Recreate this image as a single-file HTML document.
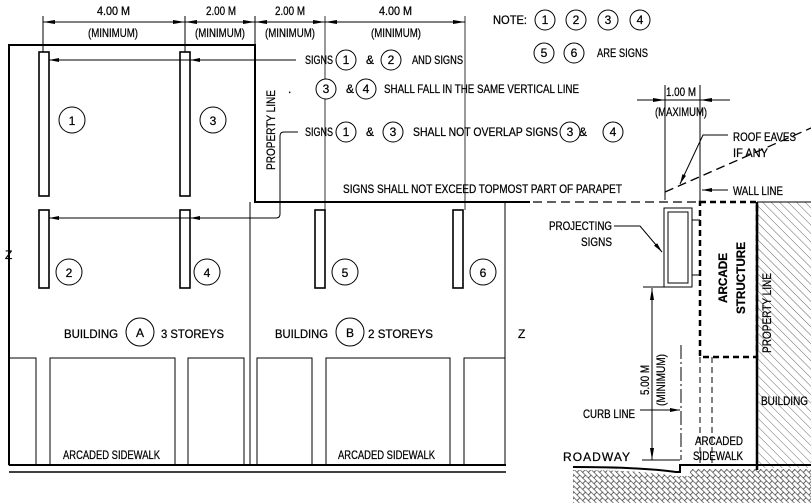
<!DOCTYPE html>
<html><head><meta charset="utf-8"><style>
html,body{margin:0;padding:0;background:#fff;}
svg{display:block;}
text{font-family:"Liberation Sans",sans-serif;font-size:12px;fill:#000;stroke:#000;stroke-width:0.25;}
.c{fill:#fff;stroke:#000;stroke-width:1;}
.ct{font-size:12px;text-anchor:middle;}
</style></head><body>
<svg width="811" height="503" viewBox="0 0 811 503" xmlns="http://www.w3.org/2000/svg">
<defs>
<marker id="ar" viewBox="0 0 10 6" refX="10" refY="3" markerWidth="10" markerHeight="6" orient="auto" markerUnits="userSpaceOnUse"><path d="M0,1 L10,3 L0,5z" fill="#000"/></marker>
<pattern id="hatch" width="6" height="6" patternUnits="userSpaceOnUse" patternTransform="rotate(-45)"><line x1="0" y1="0" x2="0" y2="6" stroke="#000" stroke-width="0.6"/></pattern>
<pattern id="bw" width="8" height="8" patternUnits="userSpaceOnUse" patternTransform="rotate(45)"><path d="M0,2 H8 M0,6 H8 M2,0 V2 M6,2 V6 M2,6 V8" stroke="#000" stroke-width="0.6" fill="none"/></pattern>
</defs>

<g stroke="#000" stroke-width="1" fill="none">
<line x1="43" y1="22" x2="465" y2="22"/>
<line x1="43" y1="16" x2="43" y2="52"/>
<line x1="185" y1="16" x2="185" y2="52"/>
<line x1="255" y1="16" x2="255" y2="45"/>
<line x1="325" y1="16" x2="325" y2="210" stroke-width="0.8"/>
<line x1="465" y1="16" x2="465" y2="210" stroke-width="0.8"/>
</g>
<g fill="#000">
<path d="M43,22 l12,-2 v4z"/><path d="M185,22 l-12,-2 v4z"/><path d="M185,22 l12,-2 v4z"/>
<path d="M255,22 l-12,-2 v4z"/><path d="M255,22 l12,-2 v4z"/><path d="M325,22 l-12,-2 v4z"/><path d="M325,22 l12,-2 v4z"/><path d="M465,22 l-12,-2 v4z"/>
</g>
<text x="97" y="15" textLength="33" lengthAdjust="spacingAndGlyphs">4.00 M</text>
<text x="88" y="37" textLength="50" lengthAdjust="spacingAndGlyphs">(MINIMUM)</text>
<text x="206" y="15" textLength="30" lengthAdjust="spacingAndGlyphs">2.00 M</text>
<text x="195" y="37" textLength="50" lengthAdjust="spacingAndGlyphs">(MINIMUM)</text>
<text x="275" y="15" textLength="30" lengthAdjust="spacingAndGlyphs">2.00 M</text>
<text x="265" y="37" textLength="50" lengthAdjust="spacingAndGlyphs">(MINIMUM)</text>
<text x="379" y="15" textLength="33" lengthAdjust="spacingAndGlyphs">4.00 M</text>
<text x="371" y="37" textLength="50" lengthAdjust="spacingAndGlyphs">(MINIMUM)</text>

<g stroke="#000" fill="none">
<path d="M9,465 V45 H255 V202 H530" stroke-width="2"/>
<line x1="250" y1="202" x2="250" y2="465" stroke-width="1"/>
<line x1="505" y1="202" x2="505" y2="465" stroke-width="1"/>
<line x1="9" y1="465" x2="506" y2="465" stroke-width="2"/>
<line x1="9" y1="472" x2="506" y2="472" stroke-width="1.5"/>
<rect x="9" y="358" width="27" height="107" stroke-width="1"/>
<rect x="50" y="358" width="125" height="107" stroke-width="1"/>
<rect x="188" y="358" width="56" height="107" stroke-width="1"/>
<rect x="257" y="358" width="55" height="107" stroke-width="1"/>
<rect x="326" y="358" width="124" height="107" stroke-width="1"/>
<rect x="464" y="358" width="41" height="107" stroke-width="1"/>
<rect x="39" y="52" width="10" height="144" stroke-width="1.6"/>
<rect x="180" y="52" width="10" height="144" stroke-width="1.6"/>
<rect x="39" y="210" width="10" height="78" stroke-width="1.6"/>
<rect x="180" y="210" width="10" height="78" stroke-width="1.6"/>
<rect x="315" y="210" width="10" height="78" stroke-width="1.6"/>
<rect x="453" y="210" width="10" height="78" stroke-width="1.6"/>
<line x1="296" y1="60" x2="49" y2="60" marker-end="url(#ar)"/>
<line x1="200" y1="60" x2="190" y2="60" marker-end="url(#ar)"/>
<path d="M298,132 H284 Q280,132 280,136 V214 Q280,218 276,218 H49" marker-end="url(#ar)"/>
<line x1="200" y1="218" x2="190" y2="218" marker-end="url(#ar)"/>
</g>
<text x="5" y="259" font-size="12">Z</text>
<text x="518" y="338" font-size="12">Z</text>

<g class="c">
<circle cx="72" cy="120" r="13"/><circle cx="213" cy="120" r="13"/>
<circle cx="69" cy="272" r="13"/><circle cx="207" cy="272" r="13"/>
<circle cx="345" cy="272" r="13"/><circle cx="483" cy="272" r="13"/>
<circle cx="346" cy="60" r="10"/><circle cx="391" cy="60" r="10"/>
<circle cx="326" cy="89" r="10"/><circle cx="366" cy="89" r="10"/>
<circle cx="346" cy="132" r="10"/><circle cx="393" cy="132" r="10"/>
<circle cx="570" cy="132" r="10"/><circle cx="613" cy="132" r="10"/>
<circle cx="545" cy="20" r="10"/><circle cx="576" cy="20" r="10"/><circle cx="608" cy="20" r="10"/><circle cx="640" cy="20" r="10"/>
<circle cx="544" cy="53" r="10"/><circle cx="574" cy="53" r="10"/>
<circle cx="140" cy="332" r="14"/><circle cx="350" cy="332" r="14"/>
</g>
<text x="72" y="125" class="ct" font-size="13">1</text><text x="213" y="125" class="ct" font-size="13">3</text>
<text x="69" y="277" class="ct" font-size="13">2</text><text x="207" y="277" class="ct" font-size="13">4</text>
<text x="345" y="277" class="ct" font-size="13">5</text><text x="483" y="277" class="ct" font-size="13">6</text>
<text x="346" y="64" class="ct">1</text><text x="391" y="64" class="ct">2</text>
<text x="326" y="93" class="ct">3</text><text x="366" y="93" class="ct">4</text>
<text x="346" y="136" class="ct">1</text><text x="393" y="136" class="ct">3</text>
<text x="570" y="136" class="ct">3</text><text x="613" y="136" class="ct">4</text>
<text x="545" y="24" class="ct">1</text><text x="576" y="24" class="ct">2</text><text x="608" y="24" class="ct">3</text><text x="640" y="24" class="ct">4</text>
<text x="544" y="57" class="ct">5</text><text x="574" y="57" class="ct">6</text>
<text x="140" y="337" class="ct" font-size="13">A</text><text x="350" y="337" class="ct" font-size="13">B</text>

<text x="493" y="24" textLength="34" lengthAdjust="spacingAndGlyphs">NOTE:</text>
<text x="597" y="57" textLength="51" lengthAdjust="spacingAndGlyphs">ARE SIGNS</text>
<text x="305" y="64" textLength="28" lengthAdjust="spacingAndGlyphs">SIGNS</text><text x="366" y="64">&amp;</text><text x="412" y="64" textLength="51" lengthAdjust="spacingAndGlyphs">AND SIGNS</text>
<text x="288" y="93">.</text><text x="346" y="93">&amp;</text><text x="384" y="93" textLength="195" lengthAdjust="spacingAndGlyphs">SHALL FALL IN THE SAME VERTICAL LINE</text>
<text x="305" y="136" textLength="28" lengthAdjust="spacingAndGlyphs">SIGNS</text><text x="366" y="136">&amp;</text><text x="413" y="136" textLength="145" lengthAdjust="spacingAndGlyphs">SHALL NOT OVERLAP SIGNS</text><text x="579" y="136">&amp;</text>
<text x="275" y="130" transform="rotate(-90 275 130)" text-anchor="middle" textLength="80" lengthAdjust="spacingAndGlyphs">PROPERTY LINE</text>
<text x="343" y="193" textLength="279" lengthAdjust="spacingAndGlyphs">SIGNS SHALL NOT EXCEED TOPMOST PART OF PARAPET</text>
<text x="64" y="338" font-size="13" textLength="54" lengthAdjust="spacingAndGlyphs">BUILDING</text><text x="161" y="338" font-size="13" textLength="63" lengthAdjust="spacingAndGlyphs">3 STOREYS</text>
<text x="275" y="338" font-size="13" textLength="53" lengthAdjust="spacingAndGlyphs">BUILDING</text><text x="368" y="338" font-size="13" textLength="65" lengthAdjust="spacingAndGlyphs">2 STOREYS</text>
<text x="63" y="459" font-size="11" textLength="97" lengthAdjust="spacingAndGlyphs">ARCADED SIDEWALK</text>
<text x="338" y="459" font-size="11" textLength="97" lengthAdjust="spacingAndGlyphs">ARCADED SIDEWALK</text>

<rect x="757" y="202" width="54" height="266" fill="url(#hatch)"/>
<path d="M573,470 Q640,470 676,476 L690,476 L690,469 L811,469 V503 H573z" fill="url(#bw)"/>
<g stroke="#000" fill="none">
<line x1="637" y1="100" x2="730" y2="100"/>
<line x1="665" y1="85" x2="665" y2="200"/>
<line x1="700" y1="85" x2="700" y2="203"/>
<line x1="505" y1="202" x2="700" y2="202" stroke-dasharray="9,5" stroke-width="1.3"/>
<line x1="665" y1="192" x2="811" y2="128" stroke-dasharray="9,5" stroke-width="1.3"/>
<path d="M728,135 H703 L680,184" marker-end="url(#ar)"/>
<line x1="728" y1="190" x2="702" y2="190" marker-end="url(#ar)"/>
<path d="M700,202 H757 V357 H700z" stroke-dasharray="6,4" stroke-width="2.5"/>
<line x1="757" y1="202" x2="757" y2="470" stroke-width="2.5"/>
<line x1="757" y1="202" x2="811" y2="202" stroke-width="1"/>
<rect x="664" y="208" width="28" height="79" stroke-width="1"/>
<rect x="668" y="212" width="20" height="71" stroke-width="1"/>
<line x1="692" y1="220" x2="700" y2="220"/><line x1="692" y1="275" x2="700" y2="275"/>
<path d="M614,226 H640 L662,252" marker-end="url(#ar)"/>
<line x1="643" y1="287" x2="665" y2="287"/>
<line x1="652" y1="288" x2="652" y2="460"/>
<line x1="642" y1="460" x2="680" y2="460"/>
<line x1="681" y1="345" x2="681" y2="460" stroke-dasharray="14,3,2,3"/>
<line x1="640" y1="410" x2="680" y2="410" marker-end="url(#ar)"/>
<line x1="700" y1="357" x2="700" y2="466" stroke-dasharray="6,4"/>
<line x1="712" y1="357" x2="712" y2="466" stroke-dasharray="6,4"/>
<path d="M573,467 Q640,467 676,472 H680 V465 H811" stroke-width="2"/>
</g>
<g fill="#000">
<path d="M665,100 l-12,-2 v4z"/><path d="M700,100 l12,-2 v4z"/>
<path d="M652,288 l-2,12 h4z"/><path d="M652,460 l-2,-12 h4z"/>
</g>
<text x="666" y="96" textLength="30" lengthAdjust="spacingAndGlyphs">1.00 M</text>
<text x="655" y="116" textLength="52" lengthAdjust="spacingAndGlyphs">(MAXIMUM)</text>
<text x="733" y="141" textLength="63" lengthAdjust="spacingAndGlyphs">ROOF EAVES</text>
<text x="733" y="157" textLength="35" lengthAdjust="spacingAndGlyphs">IF ANY</text>
<text x="733" y="195" textLength="50" lengthAdjust="spacingAndGlyphs">WALL LINE</text>
<text x="549" y="230" textLength="63" lengthAdjust="spacingAndGlyphs">PROJECTING</text>
<text x="581" y="246" textLength="31" lengthAdjust="spacingAndGlyphs">SIGNS</text>
<text x="727" y="278" transform="rotate(-90 727 278)" text-anchor="middle" font-size="14" font-weight="bold" textLength="50" lengthAdjust="spacingAndGlyphs">ARCADE</text>
<text x="745" y="278" transform="rotate(-90 745 278)" text-anchor="middle" font-size="14" font-weight="bold" textLength="72" lengthAdjust="spacingAndGlyphs">STRUCTURE</text>
<text x="771" y="313" transform="rotate(-90 771 313)" text-anchor="middle" textLength="80" lengthAdjust="spacingAndGlyphs">PROPERTY LINE</text>
<text x="649" y="380" transform="rotate(-90 649 380)" text-anchor="middle" textLength="30" lengthAdjust="spacingAndGlyphs">5.00 M</text>
<text x="665" y="380" transform="rotate(-90 665 380)" text-anchor="middle" textLength="52" lengthAdjust="spacingAndGlyphs">(MINIMUM)</text>
<text x="761" y="405" textLength="47" lengthAdjust="spacingAndGlyphs">BUILDING</text>
<text x="583" y="418" textLength="52" lengthAdjust="spacingAndGlyphs">CURB LINE</text>
<text x="563" y="461" textLength="67" lengthAdjust="spacing">ROADWAY</text>
<text x="695" y="445" textLength="48" lengthAdjust="spacingAndGlyphs">ARCADED</text>
<text x="693" y="460" textLength="50" lengthAdjust="spacingAndGlyphs">SIDEWALK</text>
</svg>
</body></html>
